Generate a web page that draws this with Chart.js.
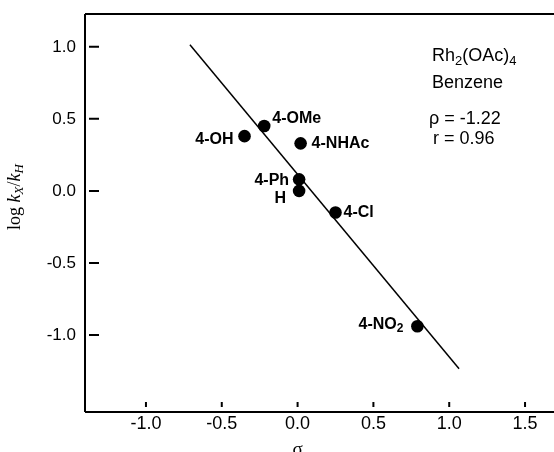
<!DOCTYPE html>
<html>
<head>
<meta charset="utf-8">
<script src="https://cdn.jsdelivr.net/npm/chart.js@4.4.1/dist/chart.umd.min.js"></script>
<style>
  html, body { margin: 0; padding: 0; background: #fff; }
  #wrap { width: 554px; height: 452px; }
</style>
</head>
<body>
<div id="wrap"><canvas id="hammett"></canvas></div>
<script>
// data
const substituents = ['4-OMe', '4-OH', '4-NHAc', '4-Ph', 'H', '4-Cl', '4-NO2'];
const sigma = [-0.22, -0.35, 0.02, 0.01, 0.01, 0.25, 0.79];
const logRatio = [0.45, 0.38, 0.33, 0.08, 0.0, -0.15, -0.94];
const fitX = [-0.71, 1.065];
const fitY = [1.015, -1.235];
const xTicks = [-1.0, -0.5, 0.0, 0.5, 1.0, 1.5];
const yTicks = [1.0, 0.5, 0.0, -0.5, -1.0];
const noteLines = [
  [['Rh'], ['2', 'sub'], ['(OAc)'], ['4', 'sub']],
  [['Benzene']],
  [['\u03c1 = -1.22']],
  [['r = 0.96']]
];

// label layout: dx, dy from the dot, alignment
const labelPlace = [
  [8, -7, 'left'], [-11, 3, 'right'], [11, 0, 'left'], [-10, 1, 'right'],
  [-13, 8, 'right'], [8, 0, 'left'], [-14, -2, 'right']
];
const notePlace = [[432, 56], [432, 83], [429, 119], [433, 139]];

const SANS = 'Arial, "Liberation Sans", Helvetica, sans-serif';
const SERIF = '"Liberation Serif", "Times New Roman", serif';

// draw a run of text pieces, some as subscripts
function richText(ctx, parts, x, y, size, weight, family, align) {
  const pieces = parts.map(p => {
    const sub = p[1] === 'sub';
    const st = p[2] === 'it' ? 'italic ' : '';
    const f = st + weight + ' ' + (sub ? Math.round(size * 0.72) : size) + 'px ' + family;
    ctx.font = f;
    return { t: p[0], f, sub, w: ctx.measureText(p[0]).width };
  });
  const total = pieces.reduce((s, p) => s + p.w, 0);
  let cx = align === 'right' ? x - total : align === 'center' ? x - total / 2 : x;
  ctx.textAlign = 'left';
  ctx.textBaseline = 'middle';
  pieces.forEach(p => {
    ctx.font = p.f;
    ctx.fillText(p.t, cx, p.sub ? y + size * 0.28 : y);
    cx += p.w;
  });
}

function splitSub(name) {
  const m = name.match(/^(.*?)(\d)$/);
  if (m && name.indexOf('NO') >= 0) return [[m[1]], [m[2], 'sub']];
  return [[name]];
}

const frame = {
  id: 'frame',
  afterDatasetsDraw(chart) {
    const { ctx, chartArea: a, scales: { x, y } } = chart;
    ctx.save();
    ctx.strokeStyle = '#000';
    ctx.lineWidth = 2;
    ctx.beginPath();
    ctx.moveTo(a.left, a.top); ctx.lineTo(a.right, a.top);
    ctx.moveTo(a.left, a.top); ctx.lineTo(a.left, a.bottom);
    ctx.moveTo(a.left, a.bottom); ctx.lineTo(a.right, a.bottom);
    // inward tick marks
    yTicks.forEach(v => {
      const py = y.getPixelForValue(v);
      ctx.moveTo(a.left + 4, py); ctx.lineTo(a.left + 14, py);
    });
    xTicks.forEach(v => {
      const px = x.getPixelForValue(v);
      ctx.moveTo(px, a.bottom - 10); ctx.lineTo(px, a.bottom - 5);
    });
    ctx.stroke();

    // point labels
    ctx.fillStyle = '#000';
    const meta = chart.getDatasetMeta(1);
    meta.data.forEach((pt, i) => {
      const [dx, dy, al] = labelPlace[i];
      richText(ctx, splitSub(substituents[i]), pt.x + dx, pt.y + dy, 16, 'bold', SANS, al);
    });

    // note text
    noteLines.forEach((ln, i) => {
      richText(ctx, ln, notePlace[i][0], notePlace[i][1], 18, 'normal', SANS, 'left');
    });

    // axis titles
    richText(ctx, [['\u03c3']], x.getPixelForValue(0), 450, 19, 'normal', SERIF, 'center');
    ctx.translate(15, 197);
    ctx.rotate(-Math.PI / 2);
    richText(ctx, [['log '], ['k', '', 'it'], ['X', 'sub', 'it'], ['/'], ['k', '', 'it'], ['H', 'sub', 'it']],
      0, 0, 18, 'normal', SERIF, 'center');
    ctx.restore();
  }
};

new Chart(document.getElementById('hammett'), {
  type: 'scatter',
  data: {
    datasets: [
      {
        label: 'fit',
        data: fitX.map((v, i) => ({ x: v, y: fitY[i] })),
        showLine: true,
        borderColor: '#000',
        borderWidth: 1.5,
        pointRadius: 0
      },
      {
        label: 'substituents',
        data: sigma.map((v, i) => ({ x: v, y: logRatio[i] })),
        backgroundColor: '#000',
        borderColor: '#000',
        pointRadius: 6.3,
        borderWidth: 0
      }
    ]
  },
  options: {
    responsive: true,
    maintainAspectRatio: false,
    animation: false,
    layout: { autoPadding: false, padding: { top: 14, right: 0, left: 0, bottom: 0 } },
    plugins: { legend: { display: false }, tooltip: { enabled: false } },
    scales: {
      x: {
        min: -1.402, max: 1.691,
        grid: { display: false, drawTicks: false },
        border: { display: false },
        afterBuildTicks: s => { s.ticks = xTicks.map(v => ({ value: v })); },
        afterFit: s => { s.height = 40; s.paddingLeft = 0; s.paddingRight = 0; },
        ticks: {
          padding: 1,
          color: '#000',
          font: { family: SANS, size: 18 },
          callback: v => Number(v).toFixed(1)
        }
      },
      y: {
        min: -1.535, max: 1.228,
        grid: { display: false, drawTicks: false },
        border: { display: false },
        afterBuildTicks: s => { s.ticks = yTicks.map(v => ({ value: v })); },
        afterFit: s => { s.width = 85; s.paddingTop = 0; s.paddingBottom = 0; },
        ticks: {
          padding: 9,
          color: '#000',
          font: { family: SANS, size: 17 },
          callback: v => Number(v).toFixed(1)
        }
      }
    }
  },
  plugins: [frame]
});
</script>
</body>
</html>
